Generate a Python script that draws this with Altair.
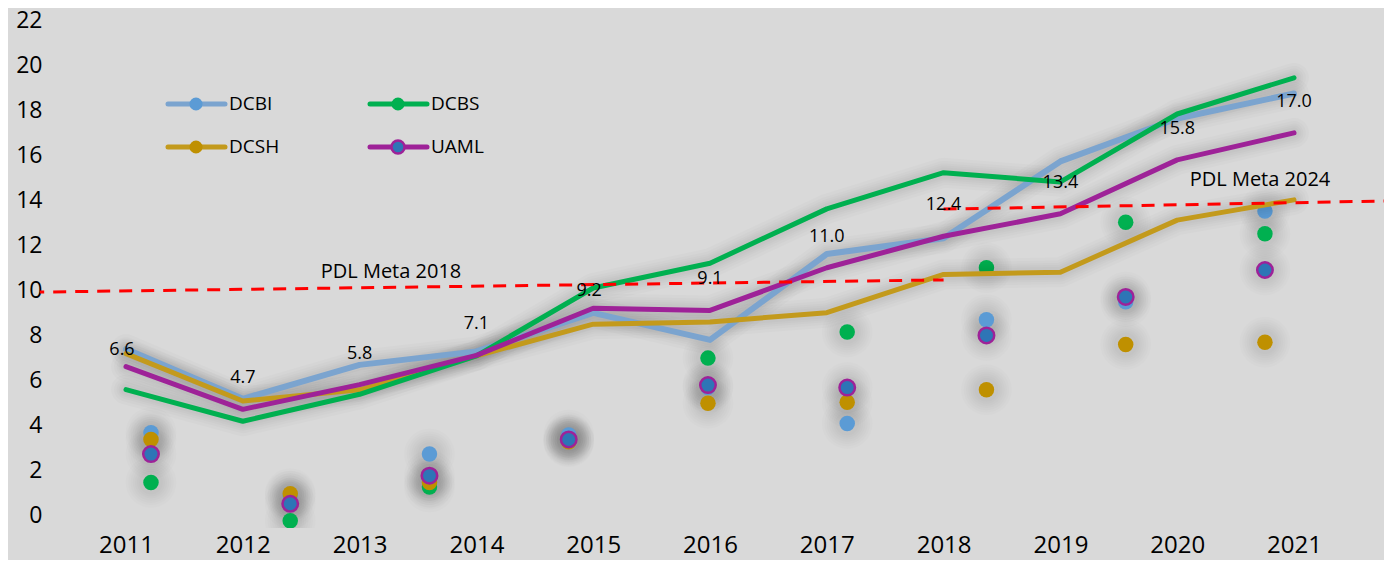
import altair as alt
import pandas as pd

# ---------------- data ----------------
years = list(range(2011, 2022))
series_names = ["DCBI", "DCBS", "DCSH", "UAML"]

line_dcbi = [7.38, 5.17, 6.68, 7.28, 8.99, 7.79, 11.61, 12.31, 15.73, 17.64, 18.75]
line_dcbs = [5.58, 4.17, 5.37, 7.08, 10.1, 11.2, 13.62, 15.23, 14.82, 17.84, 19.45]
line_dcsh = [7.18, 5.07, 5.57, 7.08, 8.49, 8.59, 9.0, 10.7, 10.8, 13.12, 14.02]
line_uaml = [6.6, 4.7, 5.8, 7.1, 9.2, 9.1, 11.0, 12.4, 13.4, 15.8, 17.0]

dot_groups = list(range(9))
dot_dcbi = [3.66, 0.85, 2.71, 3.56, 5.67, 4.07, 8.69, 9.49, 13.52]
dot_dcbs = [1.45, -0.26, 1.25, 3.31, 6.98, 8.14, 11.0, 13.02, 12.51]
dot_dcsh = [3.36, 0.95, 1.45, 3.26, 4.97, 5.02, 5.57, 7.59, 7.69]
dot_uaml = [2.71, 0.5, 1.75, 3.36, 5.78, 5.67, 7.99, 9.7, 10.9]

meta_2018_years = [2010, 2018]
meta_2018_values = [9.9, 10.46]
meta_2024_years = [2018, 2022]
meta_2024_values = [13.61, 13.99]

y_ticks = list(range(0, 23, 2))

# ---------------- styles ----------------
FONT = "Open Sans"
BG = "#D9D9D9"
line_colors = {"DCBI": "#7BA4CF", "DCBS": "#00B050", "DCSH": "#C39A1C", "UAML": "#9E2298"}
dot_colors = {"DCBI": "#5B9BD5", "DCBS": "#00B050", "DCSH": "#BF9000", "UAML": "#2E75B6"}
line_widths = {"DCBI": 6, "DCBS": 5, "DCSH": 5, "UAML": 5}
low_label_years = [2011, 2015]   # labels drawn closer to their point

x_year = alt.Scale(domain=[2010.2637, 2021.7705], nice=False, zero=False)
x_idx = alt.Scale(domain=[-0.797, 8.855], nice=False, zero=False)
y_sc = alt.Scale(domain=[-0.578, 22.556], nice=False, zero=False)

x_axis = alt.Axis(values=years, format="d", title=None, labelFontSize=24, labelFont=FONT,
                  labelColor="#000000", ticks=False, tickSize=0, domain=False, grid=False,
                  labelPadding=5)
y_axis = alt.Axis(values=y_ticks, title=None, labelFontSize=23, labelFont=FONT,
                  labelColor="#000000", ticks=False, tickSize=0, domain=False, grid=False,
                  labelPadding=-2)

line_series = {"DCBI": line_dcbi, "DCBS": line_dcbs, "DCSH": line_dcsh, "UAML": line_uaml}
dot_series = {"DCBI": dot_dcbi, "DCBS": dot_dcbs, "DCSH": dot_dcsh, "UAML": dot_uaml}

# ---------------- dots (own x scale) ----------------
dot_layers = []
all_dots = pd.concat([pd.DataFrame({"g": dot_groups, "value": v, "series": s})
                      for s, v in dot_series.items()])
for sz in [2600, 2100, 1700, 1350, 1050, 800, 580]:
    dot_layers.append(
        alt.Chart(all_dots).mark_circle(size=sz, color="#000000", opacity=0.013, clip=True).encode(
            x=alt.X("g:Q", scale=x_idx, axis=None),
            y=alt.Y("value:Q", scale=y_sc, axis=y_axis),
        )
    )
for s in series_names:
    df = pd.DataFrame({"g": dot_groups, "value": dot_series[s]})
    kw = dict(size=240, fill=dot_colors[s], opacity=1, clip=True)
    if s == "UAML":
        kw.update(stroke=line_colors["UAML"], strokeWidth=2.5)
    else:
        kw.update(strokeWidth=0)
    dot_layers.append(
        alt.Chart(df).mark_point(filled=True, **kw).encode(
            x=alt.X("g:Q", scale=x_idx, axis=None),
            y=alt.Y("value:Q", scale=y_sc, axis=y_axis),
        )
    )
dots = alt.layer(*dot_layers)

# ---------------- lines (year scale) ----------------
year_layers = []
order = ["DCBI", "DCSH", "DCBS", "UAML"]
shadow_df = pd.concat([pd.DataFrame({"year": years, "value": line_series[s], "series": s})
                       for s in order])
for w in [30, 24, 19, 15, 11]:
    year_layers.append(
        alt.Chart(shadow_df).mark_line(color="#000000", strokeWidth=w, opacity=0.015,
                                       strokeCap="round", strokeJoin="round").encode(
            x=alt.X("year:Q", scale=x_year, axis=x_axis),
            y=alt.Y("value:Q", scale=y_sc, axis=y_axis),
            detail="series:N",
        )
    )
for s in order:
    df = pd.DataFrame({"year": years, "value": line_series[s]})
    year_layers.append(
        alt.Chart(df).mark_line(color=line_colors[s], strokeWidth=line_widths[s],
                                strokeCap="round", strokeJoin="round").encode(
            x=alt.X("year:Q", scale=x_year, axis=x_axis),
            y=alt.Y("value:Q", scale=y_sc, axis=y_axis),
        )
    )

# target (meta) dashed lines
meta_df = pd.concat([
    pd.DataFrame({"year": meta_2018_years, "value": meta_2018_values, "seg": "2018"}),
    pd.DataFrame({"year": meta_2024_years, "value": meta_2024_values, "seg": "2024"}),
])
year_layers.append(
    alt.Chart(meta_df).mark_line(color="#FF0000", strokeWidth=3, strokeDash=[13, 9], clip=True).encode(
        x=alt.X("year:Q", scale=x_year, axis=x_axis),
        y=alt.Y("value:Q", scale=y_sc, axis=y_axis),
        detail="seg:N",
    )
)

# UAML data labels
lab_df = pd.DataFrame({"year": years, "value": line_uaml})
is_low = alt.FieldOneOfPredicate(field="year", oneOf=low_label_years)
for pred, dy, dx in [(is_low, -17, -4), (~alt.Predicate(is_low), -31, 0)]:
    year_layers.append(
        alt.Chart(lab_df).transform_filter(pred).mark_text(
            dy=dy, dx=dx, fontSize=18, font=FONT, color="#000000",
            baseline="middle", align="center").encode(
            x=alt.X("year:Q", scale=x_year, axis=x_axis),
            y=alt.Y("value:Q", scale=y_sc, axis=y_axis),
            text=alt.Text("value:Q", format=".1f"),
        )
    )

one = pd.DataFrame({"a": [0]})

# annotations
for txt, px, py in [("PDL Meta 2018", 351, 264), ("PDL Meta 2024", 1220, 172)]:
    year_layers.append(
        alt.Chart(one).mark_text(fontSize=20, font=FONT, color="#000000",
                                 align="center", baseline="middle").encode(
            x=alt.value(px), y=alt.value(py), text=alt.value(txt))
    )

# manual legend
legend_pos = {"DCBI": (128, 96), "DCSH": (128, 139), "DCBS": (330, 96), "UAML": (330, 139)}
for s in series_names:
    lx, ly = legend_pos[s]
    year_layers.append(
        alt.Chart(one).mark_rule(color=line_colors[s], strokeWidth=5, strokeCap="round").encode(
            x=alt.value(lx), x2=alt.value(lx + 57), y=alt.value(ly))
    )
    kw = dict(size=170, fill=dot_colors[s], opacity=1)
    if s == "UAML":
        kw.update(stroke=line_colors["UAML"], strokeWidth=2.5)
    else:
        kw.update(strokeWidth=0)
    year_layers.append(
        alt.Chart(one).mark_point(filled=True, **kw).encode(
            x=alt.value(lx + 28), y=alt.value(ly))
    )
    year_layers.append(
        alt.Chart(one).mark_text(fontSize=19, font=FONT, color="#000000",
                                 align="left", baseline="middle").encode(
            x=alt.value(lx + 61), y=alt.value(ly), text=alt.value(s))
    )

lines = alt.layer(*year_layers)

chart = alt.layer(dots, lines).resolve_scale(x="independent").properties(
    width=1344,
    height=520,
    padding={"left": 32, "top": 0, "right": 0, "bottom": 32},
    autosize=alt.AutoSizeParams(type="none"),
    background=BG,
).configure_view(stroke=None)

chart.save("out.html", embed_options={"renderer": "svg", "actions": False})
